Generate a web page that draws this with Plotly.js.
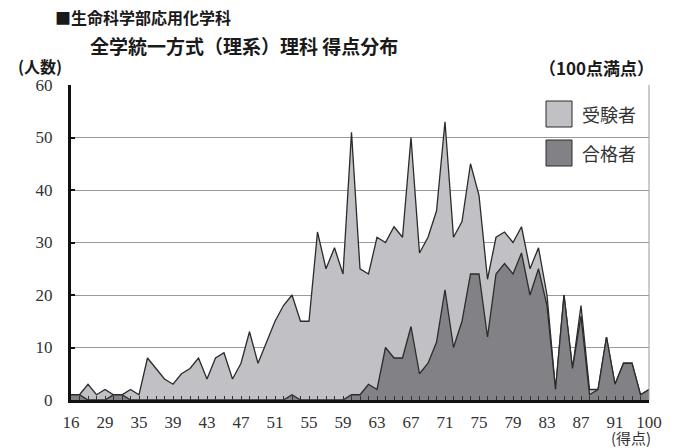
<!DOCTYPE html>
<html>
<head>
<meta charset="utf-8">
<script src="https://cdn.plot.ly/plotly-3.0.1.min.js"></script>
<style>
  html, body { margin: 0; padding: 0; background: #ffffff; }
  #chart { width: 684px; height: 448px; }
</style>
</head>
<body>
<div id="chart"></div>
<script>
// Score categories (only every 4th one is labelled on the axis)
const categories = [
  "16","22","25","27","29","31","32","33","35","36","37","38","39","40","41","42",
  "43","44","45","46","47","48","49","50","51","52","53","54","55","56","57","58",
  "59","60","61","62","63","64","65","66","67","68","69","70","71","72","73","74",
  "75","76","77","78","79","80","81","82","83","84","85","86","87","88","89","90",
  "91","93","95","98","100"
];
const tickLabels = ["16","29","35","39","43","47","51","55","59","63","67","71","75","79","83","87","91","100"];

// 受験者 (examinees)
const examinees = [
  1,1,3,1,2,1,1,2,1,8,6,4,3,5,6,8,
  4,8,9,4,7,13,7,11,15,18,20,15,15,32,25,29,
  24,51,25,24,31,30,33,31,50,28,31,36,53,31,34,45,
  39,23,31,32,30,33,25,29,20,2,20,6,18,2,2,12,
  3,7,7,1,2
];
// 合格者 (successful applicants)
const passed = [
  1,1,0,0,0,1,1,0,0,0,0,0,0,0,0,0,
  0,0,0,0,0,0,0,0,0,0,1,0,0,0,0,0,
  0,1,1,3,2,10,8,8,14,5,7,11,21,10,15,24,
  24,12,24,26,24,28,20,25,18,2,20,6,16,1,2,12,
  3,7,7,1,2
];

const seriesNames = ["受験者", "合格者"];
const fillColors = ["#c1c1c5", "#828286"];
const edgeColor = "#2b2b2b";

const serif = "'Liberation Serif', 'Noto Sans CJK JP', serif";
const cjk = "'Noto Sans CJK JP', sans-serif";

const traces = [examinees, passed].map((vals, k) => ({
  type: "scatter",
  mode: "lines",
  x: categories,
  y: vals,
  name: seriesNames[k],
  fill: "tozeroy",
  fillcolor: fillColors[k],
  line: { color: edgeColor, width: 1.3 },
  showlegend: false,
  hoverinfo: "x+y+name"
}));

// plot area in pixels (for positioning text/legend boxes)
const L = 71, R = 35, T = 85, B = 48, W = 684, H = 448;
const pw = W - L - R, ph = H - T - B;
const px = v => (v - L) / pw;
const py = v => (H - B - v) / ph;

const shapes = [
  // right border of plot
  { type: "line", xref: "paper", yref: "paper", x0: 1, x1: 1, y0: 0, y1: 1,
    line: { color: "#9a9a9a", width: 1 } }
];
const legendTops = [101, 140];
legendTops.forEach((top, k) => {
  shapes.push({
    type: "rect", xref: "paper", yref: "paper",
    x0: px(546), x1: px(572), y0: py(top + 26), y1: py(top),
    fillcolor: fillColors[k], line: { color: edgeColor, width: 1 }
  });
});

const annotations = [
  { text: "全学統一方式（理系）理科 得点分布", xref: "paper", yref: "paper",
    x: px(88), y: py(45), xanchor: "left", yanchor: "middle", showarrow: false,
    font: { family: cjk, size: 19, color: "#1a1a1a", weight: "bold" } },
  { text: "(人数)", xref: "paper", yref: "paper", x: px(40), y: py(66),
    xanchor: "center", yanchor: "middle", showarrow: false,
    font: { family: cjk, size: 16, color: "#1a1a1a", weight: "bold" } },
  { text: "（100点満点）", xref: "paper", yref: "paper", x: px(656), y: py(67),
    xanchor: "right", yanchor: "middle", showarrow: false,
    font: { family: cjk, size: 17, color: "#1a1a1a", weight: "bold" } },
  { text: "(得点)", xref: "paper", yref: "paper", x: px(631), y: py(437),
    xanchor: "center", yanchor: "middle", showarrow: false,
    font: { family: cjk, size: 15, color: "#333333" } }
];
legendTops.forEach((top, k) => {
  annotations.push({
    text: seriesNames[k], xref: "paper", yref: "paper",
    x: px(580), y: py(top + 13), xanchor: "left", yanchor: "middle", showarrow: false,
    font: { family: cjk, size: 18, color: "#333333" }
  });
});

const layout = {
  width: W, height: H,
  margin: { l: L, r: R, t: T, b: B, pad: 0 },
  paper_bgcolor: "#ffffff",
  plot_bgcolor: "#ffffff",
  showlegend: false,
  title: {
    text: "■生命科学部応用化学科",
    x: 55 / W, xref: "container", xanchor: "left",
    y: 1 - 18 / H, yref: "container", yanchor: "middle",
    font: { family: cjk, size: 16, color: "#1a1a1a", weight: "bold" }
  },
  xaxis: {
    type: "category",
    range: [0, categories.length - 1],
    autorange: false,
    tickvals: categories,
    ticktext: categories.map(c => tickLabels.includes(c) ? c : ""),
    ticks: "inside", ticklen: 4, tickwidth: 1, tickcolor: "#333333",
    showline: true, linecolor: "#111111", linewidth: 3,
    showgrid: false, zeroline: false,
    ticklabelstandoff: 5,
    tickfont: { family: serif, size: 17, color: "#333333" },
    fixedrange: true
  },
  yaxis: {
    range: [0, 60], autorange: false, dtick: 10, tick0: 0,
    ticks: "inside", ticklen: 4, tickwidth: 2, tickcolor: "#111111",
    showline: true, linecolor: "#111111", linewidth: 3,
    showgrid: true, gridcolor: "#9a9a9a", gridwidth: 1,
    zeroline: false,
    ticklabelstandoff: 12,
    tickfont: { family: serif, size: 17, color: "#333333" },
    fixedrange: true
  },
  shapes: shapes,
  annotations: annotations
};

Plotly.newPlot("chart", traces, layout, { displayModeBar: false, staticPlot: true });
</script>
</body>
</html>
